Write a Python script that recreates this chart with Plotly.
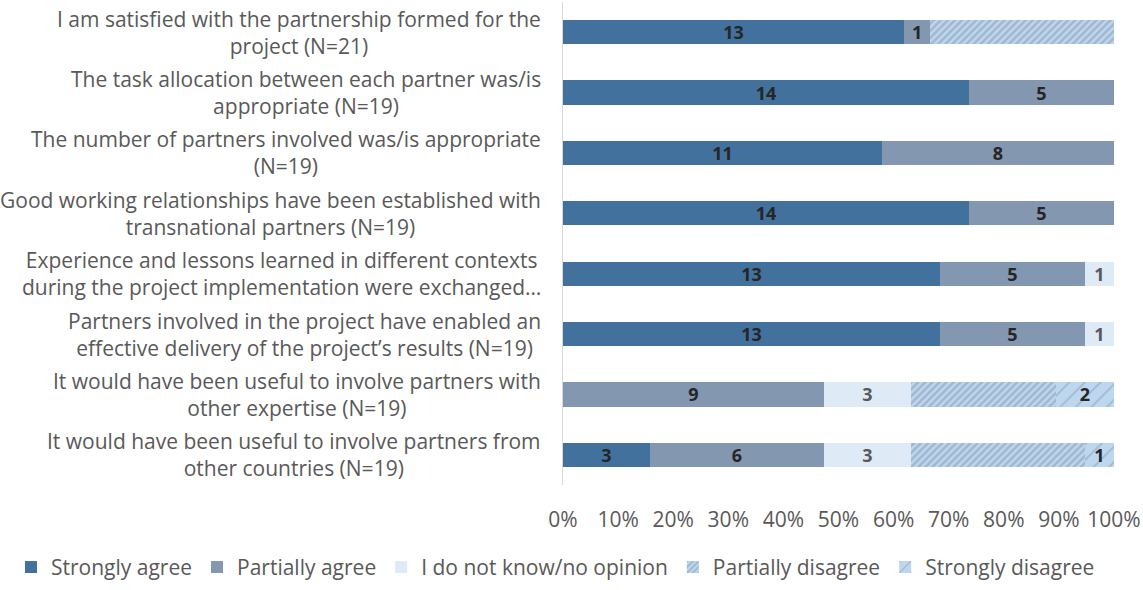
import plotly.graph_objects as go

FONT = "Open Sans"
GREY = "#595959"

statements = [
    "I am satisfied with the partnership formed for the<br>project (N=21)",
    "The task allocation between each partner was/is<br>appropriate (N=19)",
    "The number of partners involved was/is appropriate<br>(N=19)",
    "Good working relationships have been established with<br>transnational partners (N=19)",
    "Experience and lessons learned in different contexts<br>during the project implementation were exchanged…",
    "Partners involved in the project have enabled an<br>effective delivery of the project’s results (N=19)",
    "It would have been useful to involve partners with<br>other expertise (N=19)",
    "It would have been useful to involve partners from<br>other countries (N=19)",
]

strongly_agree = [13, 14, 11, 14, 13, 13, 0, 3]
partially_agree = [1, 5, 8, 5, 5, 5, 9, 6]
no_opinion = [0, 0, 0, 0, 1, 1, 3, 3]
partially_disagree = [7, 0, 0, 0, 0, 0, 5, 6]
strongly_disagree = [0, 0, 0, 0, 0, 0, 2, 1]

# segment labels the source chart leaves blank (series name, row index)
hidden_labels = {("Partially disagree", 0), ("Partially disagree", 6),
                 ("Partially disagree", 7)}

x_ticks = list(range(0, 101, 10))

series = [
    ("Strongly agree", strongly_agree, dict(color="#41719C"), "#262626"),
    ("Partially agree", partially_agree, dict(color="#8497B0"), "#262626"),
    ("I do not know/no opinion", no_opinion, dict(color="#DEEBF7"), GREY),
    (
        "Partially disagree",
        partially_disagree,
        dict(
            color="#BDD7EE",
            pattern=dict(shape="/", bgcolor="#BDD7EE", fgcolor="#8497B0",
                         size=5, solidity=0.5),
        ),
        "#262626",
    ),
    (
        "Strongly disagree",
        strongly_disagree,
        dict(
            color="#BDD7EE",
            pattern=dict(shape="/", bgcolor="#BDD7EE", fgcolor="#8497B0",
                         size=11, solidity=0.15),
        ),
        "#262626",
    ),
]

fig = go.Figure()
for name, values, marker, text_color in series:
    labels = [
        "" if v == 0 or (name, i) in hidden_labels else str(v)
        for i, v in enumerate(values)
    ]
    fig.add_trace(
        go.Bar(
            name=name,
            y=statements,
            x=values,
            orientation="h",
            marker=dict(line=dict(width=0), **marker),
            text=labels,
            textposition="inside",
            insidetextanchor="middle",
            textangle=0,
            constraintext="none",
            textfont=dict(family=FONT, size=18, color=text_color, weight="bold"),
            hoverinfo="name+x",
        )
    )

# category labels as annotations so the wrapped lines are centred like Excel
for s in statements:
    fig.add_annotation(
        x=-0.037, xref="paper", y=s, yref="y",
        text=s, showarrow=False, xanchor="right", align="center",
        font=dict(family=FONT, size=21, color=GREY),
    )

fig.update_layout(
    barmode="stack",
    barnorm="percent",
    bargap=0.6,
    width=1143,
    height=590,
    margin=dict(l=563, r=27, t=2, b=104),
    plot_bgcolor="white",
    paper_bgcolor="white",
    font=dict(family=FONT, size=21, color=GREY),
    showlegend=True,
    legend=dict(
        orientation="h", traceorder="normal",
        x=(9 - 563) / 553, xanchor="left", y=-0.213, yanchor="bottom",
        font=dict(family=FONT, size=21, color=GREY),
        itemwidth=30,
        bgcolor="rgba(0,0,0,0)",
    ),
)
fig.update_xaxes(
    range=[0, 100],
    tickvals=x_ticks,
    ticktext=[f"{t}%" for t in x_ticks],
    showgrid=False,
    zeroline=False,
    ticklabelstandoff=20,
    tickfont=dict(family=FONT, size=21, color=GREY),
)
fig.update_yaxes(
    categoryorder="array",
    categoryarray=statements,
    autorange="reversed",
    showticklabels=False,
    showline=True,
    linecolor="#D9D9D9",
    linewidth=1,
    showgrid=False,
)

# drop the browser's default body margin so the figure sits at the page origin
fig.write_html(
    "out.html",
    config={"displayModeBar": False},
    post_script="document.body.style.margin = '0';",
)
